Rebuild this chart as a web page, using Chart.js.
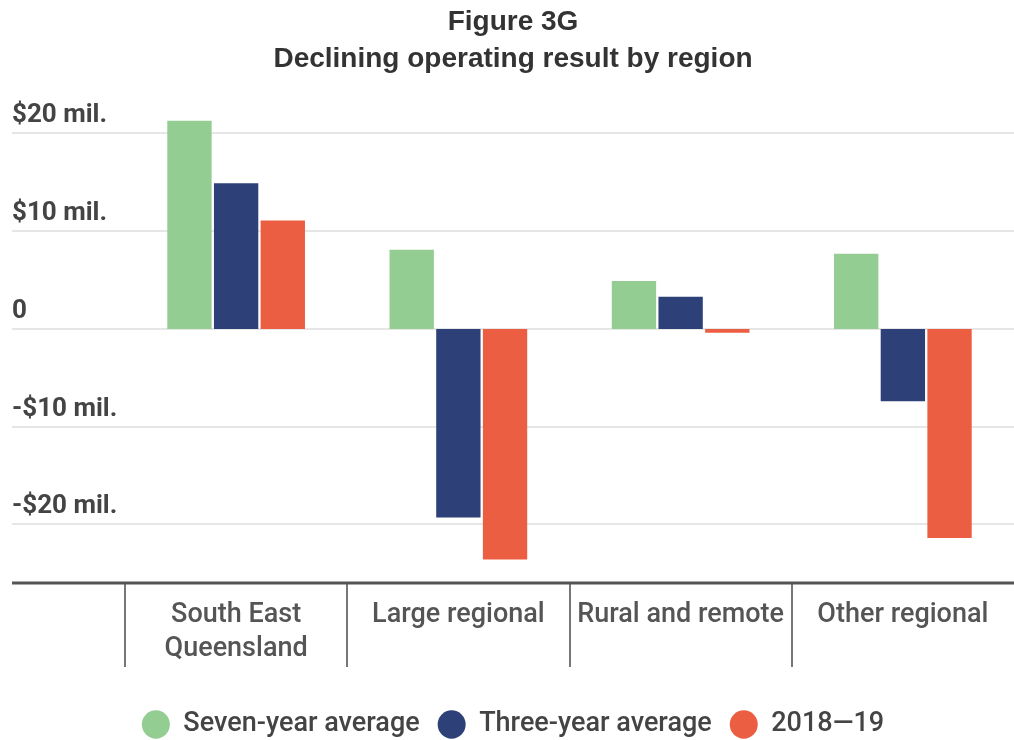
<!DOCTYPE html>
<html>
<head>
<meta charset="utf-8">
<script src="https://cdn.jsdelivr.net/npm/chart.js@4.4.1/dist/chart.umd.min.js"></script>
<style>
  html, body { margin: 0; padding: 0; background: #fff; }
  #wrap { width: 1014px; height: 740px; }
</style>
</head>
<body>
<div id="wrap"><canvas id="myChart"></canvas></div>
<script>
// data ($ million)
var regions = [['South East', 'Queensland'], 'Large regional', 'Rural and remote', 'Other regional'];
var sevenYear = [21.3, 8.1, 4.9, 7.7];
var threeYear = [14.9, -19.3, 3.3, -7.4];
var year2019 = [11.1, -23.6, -0.4, -21.4];
var yTicks = [20, 10, 0, -10, -20];
var yTickLabels = ['$20 mil.', '$10 mil.', '0', '-$10 mil.', '-$20 mil.'];

var green = '#93cd92', navy = '#2d4178', red = '#ec5e41';

// gridlines + y labels sitting on top of the lines, axis line and category dividers
var axisPlugin = {
  id: 'axisPlugin',
  beforeDatasetsDraw: function(chart) {
    var ctx = chart.ctx, y = chart.scales.y, area = chart.chartArea;
    ctx.save();
    ctx.lineWidth = 2;
    ctx.strokeStyle = '#e6e6e6';
    ctx.font = 'bold 26px Roboto';
    ctx.fillStyle = '#444';
    ctx.textBaseline = 'alphabetic';
    yTicks.forEach(function(v, i) {
      var py = Math.round(y.getPixelForValue(v));
      ctx.beginPath();
      ctx.moveTo(12, py);
      ctx.lineTo(chart.width, py);
      ctx.stroke();
      ctx.fillText(yTickLabels[i], 12, py - 11);
    });
    ctx.restore();
  },
  afterDatasetsDraw: function(chart) {
    var ctx = chart.ctx, x = chart.scales.x, area = chart.chartArea;
    ctx.save();
    ctx.strokeStyle = '#777';
    ctx.lineWidth = 2;
    var half = (x.getPixelForValue(1) - x.getPixelForValue(0)) / 2;
    for (var i = 0; i < regions.length; i++) {
      var px = Math.round(x.getPixelForValue(i) - half);
      ctx.beginPath();
      ctx.moveTo(px, area.bottom);
      ctx.lineTo(px, area.bottom + 84);
      ctx.stroke();
    }
    ctx.strokeStyle = '#555';
    ctx.lineWidth = 3;
    ctx.beginPath();
    ctx.moveTo(12, area.bottom);
    ctx.lineTo(chart.width, area.bottom);
    ctx.stroke();
    ctx.restore();
  }
};

new Chart(document.getElementById('myChart'), {
  type: 'bar',
  data: {
    labels: regions,
    datasets: [
      { label: 'Seven-year average', data: sevenYear, backgroundColor: green },
      { label: 'Three-year average', data: threeYear, backgroundColor: navy },
      { label: '2018\u201419', data: year2019, backgroundColor: red }
    ]
  },
  options: {
    responsive: true,
    maintainAspectRatio: false,
    animation: false,
    categoryPercentage: 0.63,
    barPercentage: 0.95,
    layout: { padding: { left: 12, right: 0, top: 0, bottom: -8 } },
    scales: {
      x: {
        grid: { display: false },
        border: { display: false },
        ticks: {
          color: '#555',
          font: { family: 'Roboto', size: 27, weight: '500', lineHeight: 1.26 },
          padding: 7,
          maxRotation: 0,
          autoSkip: false
        },
        afterFit: function(s) { s.height = 110; }
      },
      y: {
        min: -26,
        max: 22,
        grid: { display: false },
        border: { display: false },
        ticks: { display: false, stepSize: 10 },
        afterFit: function(s) { s.width = 113; }
      }
    },
    plugins: {
      title: {
        display: true,
        text: ['Figure 3G', 'Declining operating result by region'],
        color: '#333',
        font: { family: 'Liberation Sans', size: 28, weight: 'bold', lineHeight: 1.32 },
        padding: { top: 4, bottom: 36 }
      },
      legend: {
        position: 'bottom',
        labels: {
          usePointStyle: true,
          pointStyle: 'circle',
          pointStyleWidth: 28,
          boxHeight: 20,
          color: '#444',
          font: { family: 'Roboto', size: 27, weight: '500' },
          padding: 18
        }
      },
      tooltip: { enabled: false }
    }
  },
  plugins: [axisPlugin]
});
</script>
</body>
</html>
